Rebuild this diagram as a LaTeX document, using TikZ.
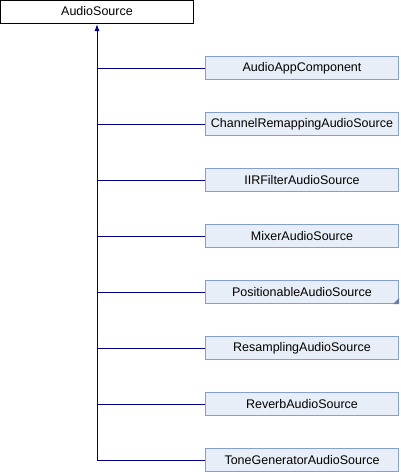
\documentclass[tikz,border=0pt]{standalone}
\usepackage{fontspec}
\setmainfont{Liberation Sans}
\usepackage{tikz}
\usetikzlibrary{calc, positioning, arrows.meta}

\definecolor{linkblue}{HTML}{000080}
\definecolor{boxfill}{HTML}{E8EEF7}
\definecolor{boxline}{HTML}{84A0CC}

\begin{document}
\begin{tikzpicture}[>={Latex[length=7pt, width=5pt]}, x=1pt, y=-1pt,
    base/.style={draw=black, line width=1pt, fill=white, minimum width=193pt, minimum height=23pt, inner sep=0pt, font=\fontsize{12.5}{14}\selectfont},
    child/.style={draw=boxline, line width=1pt, fill=boxfill, minimum width=193pt, minimum height=23pt, inner sep=0pt, font=\fontsize{12.5}{14}\selectfont},
    link/.style={draw=linkblue, line width=1pt}]
  \useasboundingbox (0,0) rectangle (400,472);
  \node (src) at (97,11.5) [base] {AudioSource};
  \node (app) at (302,68) [child] {AudioAppComponent};
  \node (remap) at (302,124) [child] {ChannelRemappingAudioSource};
  \node (iir) at (302,180) [child] {IIRFilterAudioSource};
  \node (mixer) at (302,236) [child] {MixerAudioSource};
  \node (pos) at (302,292) [child] {PositionableAudioSource};
  \node (resamp) at (302,348) [child] {ResamplingAudioSource};
  \node (reverb) at (302,404) [child] {ReverbAudioSource};
  \node (tone) at (302,460) [child] {ToneGeneratorAudioSource};
  % corner mark
  \fill [boxline!80!black] (pos.south east) -- ++(0,-6) -- ++(-6,6) -- cycle;
  % links
  \draw [link, <-, shorten <=0.5pt] (src.south) |- (tone.west);
  \foreach \n in {app, remap, iir, mixer, pos, resamp, reverb}
    \draw [link] (src.south |- \n.west) -- (\n.west);
\end{tikzpicture}
\end{document}
